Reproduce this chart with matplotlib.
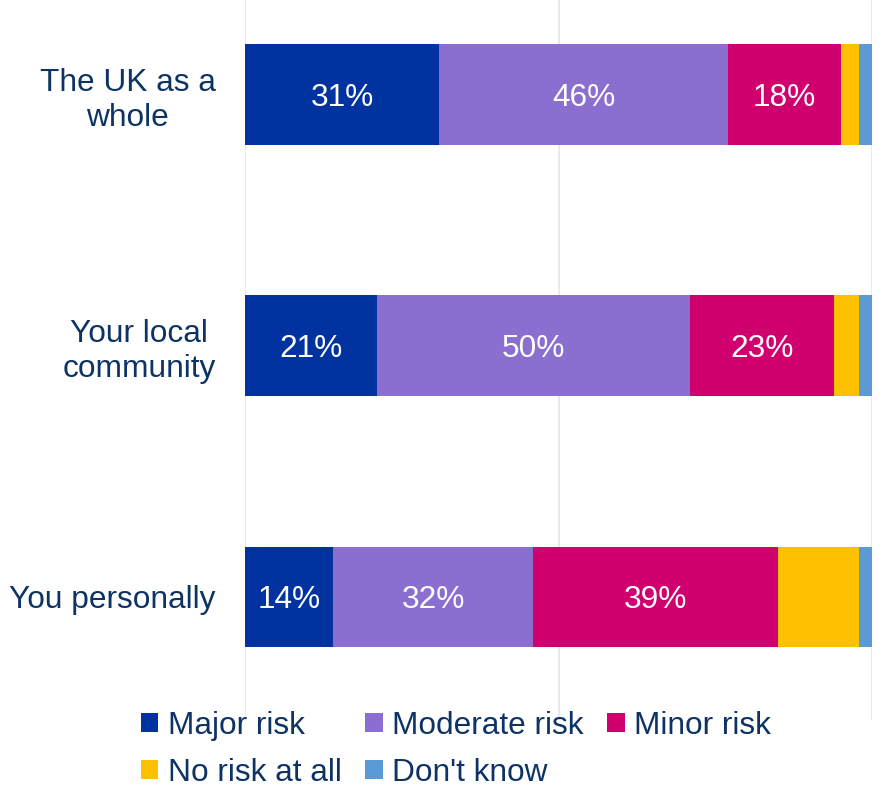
import matplotlib
matplotlib.use("Agg")
import matplotlib.pyplot as plt
from matplotlib.patches import Patch

categories = ["The UK as a\nwhole", "Your local\ncommunity", "You personally"]
series_names = ["Major risk", "Moderate risk", "Minor risk", "No risk at all", "Don't know"]
major = [31, 21, 14]
moderate = [46, 50, 32]
minor = [18, 23, 39]
no_risk = [3, 4, 13]
dont_know = [2, 2, 2]
labelled = [True, True, True, False, False]

colors = ["#0033A0", "#8B6FD0", "#D0006F", "#FFC000", "#5B9BD5"]
text_color = "#0d3364"

plt.rcParams["font.family"] = ["Liberation Sans", "DejaVu Sans"]

fig = plt.figure(figsize=(8.84, 7.93), dpi=100)
ax = fig.add_axes([245 / 884, 1 - 720 / 793, (872 - 245) / 884, 720 / 793])

data = [major, moderate, minor, no_risk, dont_know]
ypos = list(range(len(categories)))
left = [0] * len(categories)
for name, vals, col, lab in zip(series_names, data, colors, labelled):
    ax.barh(ypos, vals, left=left, height=0.4, color=col, linewidth=0, label=name, zorder=3)
    if lab:
        for i, v in enumerate(vals):
            ax.text(left[i] + v / 2, ypos[i], f"{v}%", ha="center", va="center_baseline",
                    color="white", fontsize=22.8, zorder=4)
    left = [l + v for l, v in zip(left, vals)]

ax.set_xlim(0, 100)
ax.set_ylim(2.49, -0.376)
ax.set_xticks([0, 50, 100])
ax.xaxis.grid(True, color="#e6e6e6", linewidth=1.2, zorder=0)
ax.tick_params(axis="x", length=0, labelbottom=False)
ax.set_yticks(ypos)
ax.set_yticklabels(categories, fontsize=22.8, color=text_color)
for lbl in ax.get_yticklabels():
    lbl.set_multialignment("center")
    lbl.set_linespacing(1.2)
ax.tick_params(axis="y", length=0, pad=21)
for s in ax.spines.values():
    s.set_visible(False)
ax.patch.set_alpha(0)

order = [0, 3, 1, 4, 2]
handles = [Patch(facecolor=colors[k], edgecolor="none") for k in order]
names = [series_names[k] for k in order]
leg = fig.legend(handles, names, loc="upper left", bbox_to_anchor=(128 / 884, 1 - 698 / 793),
                 ncol=3, frameon=False, fontsize=22.8, handlelength=0.55, handleheight=0.55,
                 handletextpad=0.3, columnspacing=0.75, labelspacing=0.55, borderaxespad=0)
for t in leg.get_texts():
    t.set_color(text_color)

fig.savefig("out.png", dpi=100)
